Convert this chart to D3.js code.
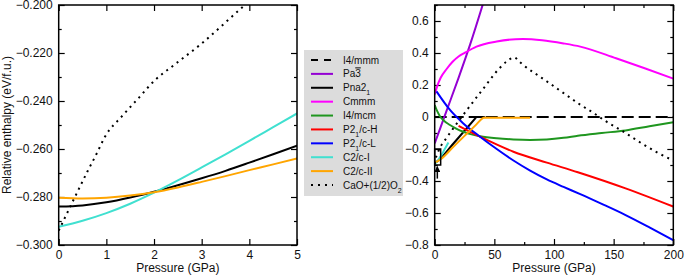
<!DOCTYPE html>
<html>
<head>
<meta charset="utf-8">
<script src="https://cdn.jsdelivr.net/npm/d3@7"></script>
<style>
  body { margin: 0; background: #fff; }
  svg text { font-family: "Liberation Sans", Arial, Helvetica, sans-serif; fill: #111; }
</style>
</head>
<body>
<svg id="chart" width="685" height="278"></svg>
<script>
// relative enthalpy (eV/f.u.) vs pressure (GPa)
var i4mmm = [[0, 0], [200, 0]];
var pa3 = [[0, -0.165], [10, 0.04], [20, 0.245], [30, 0.46], [41, 0.72]];
var pna21 = [[0, -0.284], [0.5, -0.2835], [1, -0.2822], [1.5, -0.2802], [2, -0.2778], [2.5, -0.2751],
  [3, -0.2722], [3.5, -0.2691], [4, -0.2657], [4.5, -0.2622], [5, -0.2586], [15, -0.172], [25, -0.086],
  [34, -0.0086], [35, 0], [42, 0]];
var cmmm = [[0, 0.14], [2, 0.19], [5, 0.245], [10, 0.30], [15, 0.345], [20, 0.378], [25.4, 0.402], [35, 0.44],
  [52, 0.472], [74, 0.4875], [90, 0.48], [108, 0.46], [122, 0.44], [152, 0.367], [176, 0.305], [200, 0.24]];
var i4mcm = [[0, 0.075], [2, 0.038], [4.4, 0.005], [8, -0.025], [12.8, -0.05], [18, -0.072], [24, -0.092],
  [30, -0.107], [38, -0.12], [52, -0.133], [66, -0.14], [80, -0.143], [94, -0.14], [108, -0.13],
  [120, -0.117], [140, -0.1], [160, -0.084], [180, -0.058], [200, -0.033]];
var p21cH = [[20, -0.055], [38, -0.123], [66, -0.217], [94, -0.285], [120, -0.345], [160, -0.446], [200, -0.56]];
var p21cL = [[1.5, 0.16], [12.8, 0.044], [24, -0.04], [38, -0.123], [52, -0.2], [66, -0.272], [80, -0.335],
  [94, -0.39], [108, -0.437], [122, -0.482], [140, -0.543], [160, -0.613], [180, -0.69], [200, -0.77]];
var c2cI = [[0, -0.2924], [0.5, -0.2899], [1, -0.2867], [1.5, -0.2828], [2, -0.2782], [2.5, -0.2731],
  [3, -0.2677], [3.5, -0.2622], [4, -0.2566], [4.5, -0.2509], [5, -0.2452], [8, -0.207], [11.5, -0.16]];
var c2cII = [[0, -0.2803], [0.5, -0.2806], [1, -0.2803], [1.5, -0.2794], [2, -0.278], [2.5, -0.276],
  [3, -0.2737], [3.5, -0.2713], [4, -0.2688], [4.5, -0.2664], [5, -0.2639], [15, -0.191], [25, -0.118],
  [35, -0.046], [40, -0.009], [41, -0.005], [80, -0.005]];
var caoO2 = [[0, -0.294], [0.36, -0.2792], [0.6, -0.2695], [0.8, -0.2618], [0.97, -0.2549], [1.32, -0.2465],
  [1.67, -0.2389], [2.02, -0.2313], [2.4, -0.2253], [2.96, -0.2167], [3.91, -0.2], [10, -0.13], [22.6, 0],
  [40, 0.17], [54.7, 0.308], [60, 0.345], [63, 0.362], [66.7, 0.373], [70.9, 0.346], [75.1, 0.32], [90, 0.243],
  [106.4, 0.158], [120.4, 0.085], [134.4, 0.019], [142.7, -0.023], [156.7, -0.085], [173.5, -0.165],
  [186, -0.22], [200, -0.272]];

// frame of the left (zoomed) panel drawn inside the right panel, plus the arrow under it
var zoomBoxP = [0, 5];
var zoomBoxH = [-0.3, -0.2];
var arrowPts = [[2.2, -0.385], [2.2, -0.31]];

var series = [
  { key: 'i4mmm', data: i4mmm, color: '#000', dash: '12,5', legendDash: '7,6', label: [['I4/mmm']] },
  { key: 'pa3', data: pa3, color: '#9400d3', label: [['Pa'], ['3', 'bar']] },
  { key: 'pna21', data: pna21, color: '#000', label: [['Pna2'], ['1', 'sub']] },
  { key: 'cmmm', data: cmmm, color: '#ff00ff', label: [['Cmmm']] },
  { key: 'i4mcm', data: i4mcm, color: '#1f961f', label: [['I4/mcm']] },
  { key: 'p21cH', data: p21cH, color: '#ff0000', label: [['P2'], ['1', 'sub'], ['/c-H']] },
  { key: 'p21cL', data: p21cL, color: '#0000ff', label: [['P2'], ['1', 'sub'], ['/c-L']] },
  { key: 'c2cI', data: c2cI, color: '#40e0d0', label: [['C2/c-I']] },
  { key: 'c2cII', data: c2cII, color: '#ffa500', label: [['C2/c-II']] },
  { key: 'caoO2', data: caoO2, color: '#000', dash: '2,4.5', legendDash: '2,5', label: [['CaO+(1/2)O'], ['2', 'sub']] }
];

var svg = d3.select('#chart');
var plotTop = 5, plotBottom = 245;

var panels = [
  { id: 'left', x0: 58.7, x1: 297, xDom: [0, 5], yDom: [-0.3, -0.2],
    xMajor: d3.range(0, 5.01, 1), xMinor: [], yMajor: d3.range(-0.3, -0.1999, 0.02), yMinor: d3.range(-0.29, -0.2, 0.02),
    yFmt: d3.format('.3f'), yTitle: 'Relative enthalpy (eV/f.u.)' },
  { id: 'right', x0: 434.7, x1: 673.3, xDom: [0, 200], yDom: [-0.8, 0.7],
    xMajor: d3.range(0, 201, 50), xMinor: d3.range(25, 200, 50), yMajor: d3.range(-0.8, 0.61, 0.2), yMinor: d3.range(-0.7, 0.71, 0.2),
    yFmt: function (d) { return Math.abs(d) < 1e-9 ? '0' : d3.format('.1f')(d); } }
];

panels.forEach(function (p) {
  var x = d3.scaleLinear().domain(p.xDom).range([p.x0, p.x1]);
  var y = d3.scaleLinear().domain(p.yDom).range([plotBottom, plotTop]);
  p.x = x; p.y = y;

  svg.append('clipPath').attr('id', 'clip-' + p.id)
    .append('rect').attr('x', p.x0).attr('y', plotTop).attr('width', p.x1 - p.x0).attr('height', plotBottom - plotTop);

  var g = svg.append('g').attr('class', 'panel');

  // ticks on all four sides, pointing inward
  function axisGroup(axis, tx, ty) {
    var a = g.append('g').attr('transform', 'translate(' + tx + ',' + ty + ')').call(axis);
    a.select('.domain').remove();
    a.selectAll('.tick line').attr('stroke', '#000').attr('stroke-width', 1.2);
    a.selectAll('text').style('font-size', '12px').attr('fill', '#111');
    return a;
  }
  axisGroup(d3.axisBottom(x).tickValues(p.xMajor).tickSize(-6).tickPadding(5).tickFormat(d3.format('d')), 0, plotBottom);
  axisGroup(d3.axisTop(x).tickValues(p.xMajor).tickSize(-6).tickFormat(''), 0, plotTop);
  axisGroup(d3.axisLeft(y).tickValues(p.yMajor).tickSize(-6).tickPadding(6).tickFormat(p.yFmt), p.x0, 0);
  axisGroup(d3.axisRight(y).tickValues(p.yMajor).tickSize(-6).tickFormat(''), p.x1, 0);
  if (p.xMinor.length) {
    axisGroup(d3.axisBottom(x).tickValues(p.xMinor).tickSize(-3).tickFormat(''), 0, plotBottom);
    axisGroup(d3.axisTop(x).tickValues(p.xMinor).tickSize(-3).tickFormat(''), 0, plotTop);
  }
  axisGroup(d3.axisLeft(y).tickValues(p.yMinor).tickSize(-3).tickFormat(''), p.x0, 0);
  axisGroup(d3.axisRight(y).tickValues(p.yMinor).tickSize(-3).tickFormat(''), p.x1, 0);

  // curves
  var line = d3.line()
    .x(function (d) { return x(d[0]); })
    .y(function (d) { return y(d[1]); })
    .curve(d3.curveMonotoneX);
  var lines = g.append('g').attr('clip-path', 'url(#clip-' + p.id + ')');
  series.forEach(function (s) {
    lines.append('path')
      .datum(s.data)
      .attr('d', line)
      .attr('fill', 'none')
      .attr('stroke', s.color)
      .attr('stroke-width', 2)
      .attr('stroke-dasharray', s.dash || null);
  });

  // frame
  g.append('rect')
    .attr('x', p.x0).attr('y', plotTop)
    .attr('width', p.x1 - p.x0).attr('height', plotBottom - plotTop)
    .attr('fill', 'none').attr('stroke', '#000').attr('stroke-width', 1.5);

  g.append('text')
    .attr('x', (p.x0 + p.x1) / 2).attr('y', 272)
    .attr('text-anchor', 'middle').style('font-size', '12px')
    .text('Pressure (GPa)');

  if (p.yTitle) {
    g.append('text')
      .attr('transform', 'translate(10.5,' + (plotTop + plotBottom) / 2 + ') rotate(-90)')
      .attr('text-anchor', 'middle').style('font-size', '12px')
      .text(p.yTitle);
  }
});

// zoom frame and arrow in the right panel
var R = panels[1];
svg.append('rect')
  .attr('x', R.x(zoomBoxP[0])).attr('y', R.y(zoomBoxH[1]))
  .attr('width', R.x(zoomBoxP[1]) - R.x(zoomBoxP[0]))
  .attr('height', R.y(zoomBoxH[0]) - R.y(zoomBoxH[1]))
  .attr('fill', 'none').attr('stroke', '#000').attr('stroke-width', 1.5);

svg.append('defs').append('marker')
  .attr('id', 'arrowhead').attr('viewBox', '0 0 10 10')
  .attr('refX', 9).attr('refY', 5)
  .attr('markerWidth', 4).attr('markerHeight', 4)
  .attr('orient', 'auto')
  .append('path').attr('d', 'M0,0L10,5L0,10Z').attr('fill', '#000');

svg.append('line')
  .attr('x1', R.x(arrowPts[0][0])).attr('y1', R.y(arrowPts[0][1]))
  .attr('x2', R.x(arrowPts[1][0])).attr('y2', R.y(arrowPts[1][1]))
  .attr('stroke', '#000').attr('stroke-width', 1.5)
  .attr('marker-end', 'url(#arrowhead)');

// legend
var legend = svg.append('g').attr('transform', 'translate(304,50)');
legend.append('rect').attr('width', 99).attr('height', 146).attr('fill', '#dcdcdc');
var rowY = d3.scalePoint().domain(series.map(function (s) { return s.key; })).range([10, 135]);
series.forEach(function (s) {
  var yy = rowY(s.key);
  legend.append('line')
    .attr('x1', 7).attr('x2', 29).attr('y1', yy).attr('y2', yy)
    .attr('stroke', s.color).attr('stroke-width', 2)
    .attr('stroke-dasharray', s.legendDash || null);
  var t = legend.append('text').attr('x', 39).attr('y', yy + 3.5).style('font-size', '10px');
  s.label.forEach(function (part) {
    var ts = t.append('tspan').text(part[0]);
    if (part[1] === 'sub') ts.attr('baseline-shift', 'sub').style('font-size', '7px');
    if (part[1] === 'bar') ts.style('text-decoration', 'overline');
  });
});
</script>
</body>
</html>
